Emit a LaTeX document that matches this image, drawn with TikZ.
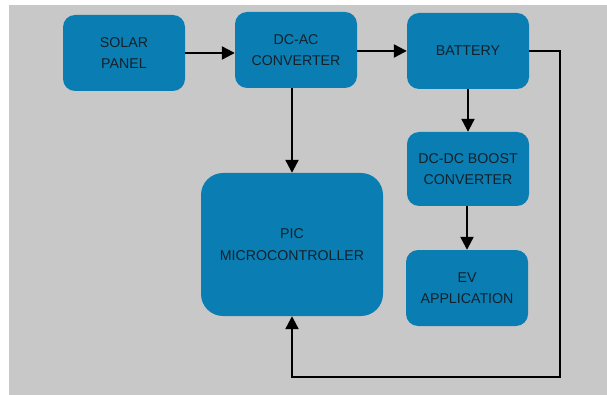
\documentclass[tikz,border=0pt]{standalone}
\usepackage{fontspec}
\setmainfont{Liberation Sans}
\usetikzlibrary{arrows.meta}
\definecolor{boxblue}{RGB}{10,126,178}
\definecolor{bggray}{RGB}{200,200,200}
\definecolor{txt}{RGB}{20,32,42}
\begin{document}
\begin{tikzpicture}[x=1pt,y=-1pt,
  blk/.style={rectangle, rounded corners=12pt, fill=boxblue, draw=none, text=txt,
    align=center, font=\fontsize{14.2}{21.5}\selectfont, minimum width=122pt, minimum height=76pt, inner sep=0pt},
  conn/.style={line width=2.3pt, black},
  arr/.style={conn, -{Triangle[length=13pt,width=13pt]}}]
\useasboundingbox (0,0) rectangle (607,395);
\fill[white] (0,0) rectangle (607,395);
\fill[bggray] (9,5) rectangle (607,395);
\node[blk] (solar) at (124,53) {SOLAR\\PANEL};
\node[blk] (dcac) at (296,50) {DC-AC\\CONVERTER};
\node[blk] (bat) at (468,51) {BATTERY};
\node[blk, minimum height=74pt] (boost) at (468,169) {DC-DC BOOST\\CONVERTER};
\node[blk] (ev) at (467,288) {EV\\APPLICATION};
\node[blk, rounded corners=22pt, minimum width=182pt, minimum height=143pt] (pic) at (292,244.5) {PIC\\MICROCONTROLLER};
\coordinate (r1) at (560,51);
\coordinate (r2) at (560,377);
\coordinate (r3) at (292,377);
\draw[arr] (solar.east) -- (dcac.west |- solar.east);
\draw[arr] (dcac.east |- bat.west) -- (bat.west);
\draw[arr] (pic.north |- dcac.south) -- (pic.north);
\draw[arr] (bat.south) -- (boost.north);
\draw[arr] (boost.south -| ev.north) -- (ev.north);
\draw[arr] (bat.east) -- (r1) -- (r2) -- (r3) -- (pic.south);
\end{tikzpicture}
\end{document}
